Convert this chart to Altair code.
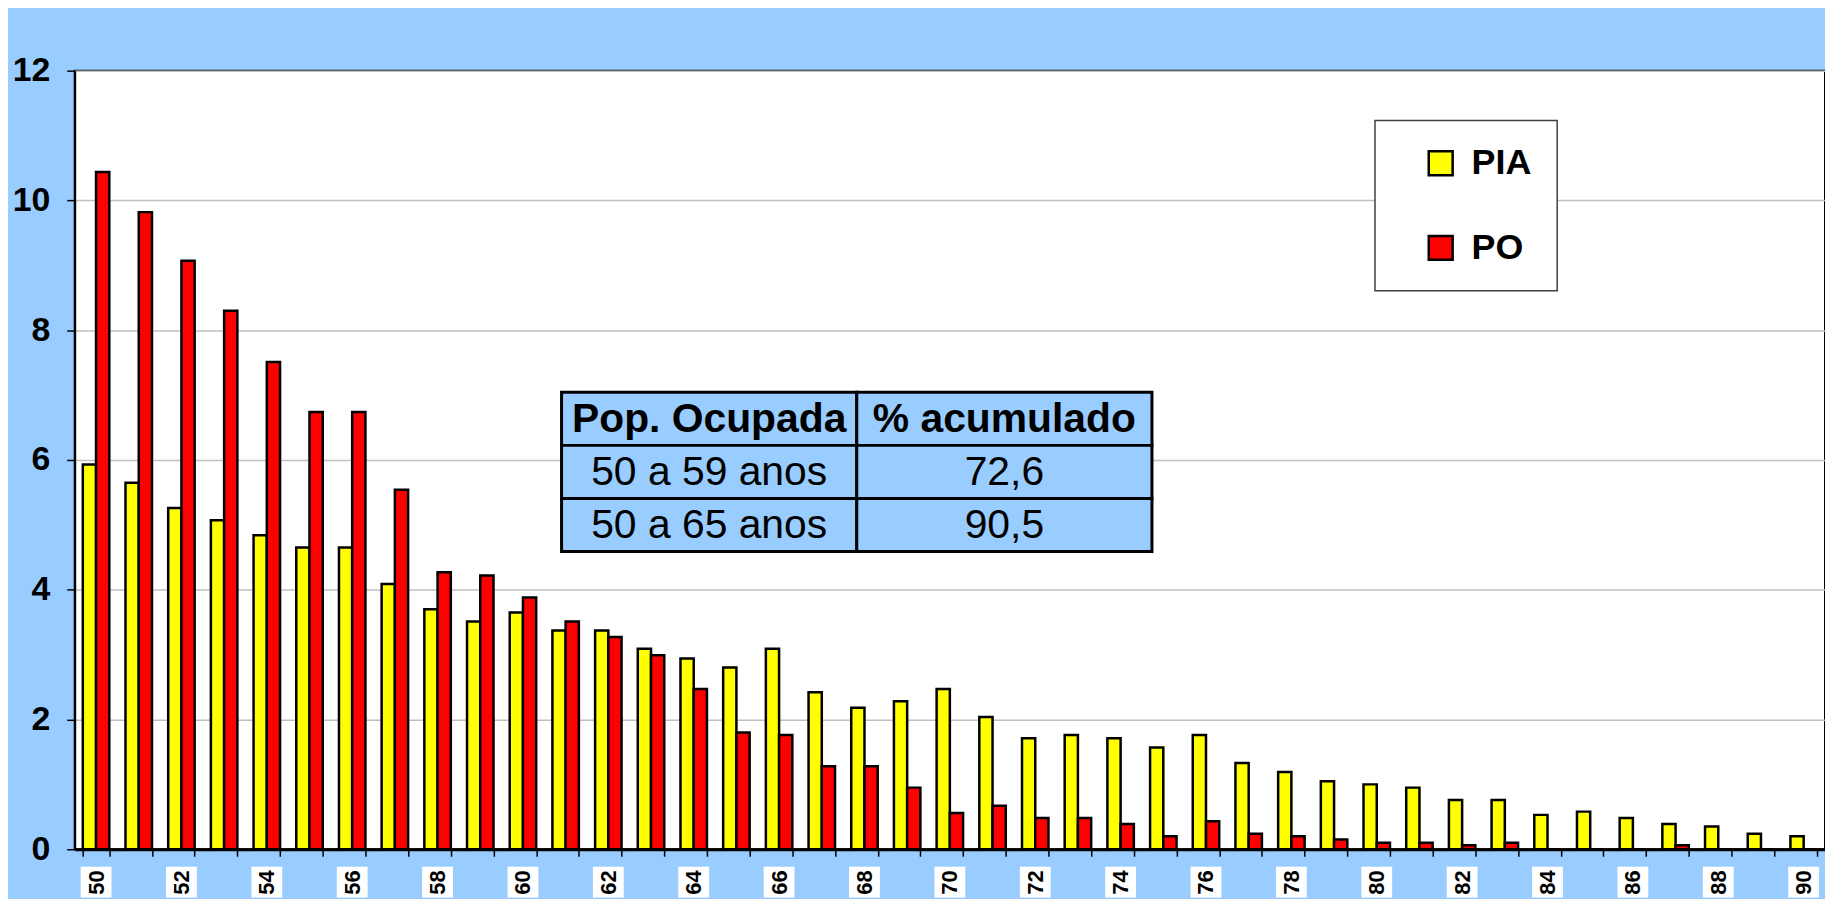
import altair as alt
import pandas as pd

# ---------------- data ----------------
ages = list(range(50, 91))
pia = [5.93, 5.65, 5.26, 5.07, 4.84, 4.65, 4.65, 4.09, 3.70, 3.51,
       3.65, 3.37, 3.37, 3.09, 2.94, 2.80, 3.09, 2.42, 2.18, 2.28,
       2.47, 2.04, 1.71, 1.76, 1.71, 1.57, 1.76, 1.33, 1.19, 1.05,
       1.00, 0.95, 0.76, 0.76, 0.53, 0.58, 0.48, 0.39, 0.35, 0.24,
       0.20]
po = [10.44, 9.82, 9.07, 8.30, 7.51, 6.74, 6.74, 5.54, 4.27, 4.22,
      3.88, 3.51, 3.27, 2.99, 2.47, 1.80, 1.76, 1.28, 1.28, 0.95,
      0.56, 0.67, 0.48, 0.48, 0.39, 0.20, 0.43, 0.24, 0.20, 0.15,
      0.10, 0.10, 0.06, 0.10, 0.0, 0.0, 0.0, 0.06, 0.0, 0.0,
      0.0]
series_names = ["PIA", "PO"]
series_colors = ["#FFFF00", "#FF0000"]
y_ticks = [0, 2, 4, 6, 8, 10, 12]

table_header = ["Pop. Ocupada", "% acumulado"]
table_labels = ["50 a 59 anos", "50 a 65 anos"]
table_values = ["72,6", "90,5"]

# ---------------- layout ----------------
W, H = 1758, 782
FONT = "Liberation Sans"
BG = "#99CCFF"

rows = []
for a, p, o in zip(ages, pia, po):
    rows.append({"age": a, "series": "PIA", "value": p})
    rows.append({"age": a, "series": "PO", "value": o})
df = pd.DataFrame(rows)

x_axis = alt.Axis(
    title=None, labelAngle=270, labelAlign="center", labelBaseline="middle",
    labelExpr="datum.value % 2 == 0 ? datum.label : ''",
    labelOverlap=False, tickBand="extent", tickSize=7, tickWidth=1.5,
    tickColor="black", domainColor="black", domainWidth=3,
    labelFont=FONT, labelFontSize=22, labelFontWeight="bold",
    labelColor="black", labelPadding=26, grid=False, zindex=1,
)
x_enc = alt.X("age:O", scale=alt.Scale(paddingInner=0.38, paddingOuter=0.19),
              axis=x_axis)

bars = alt.Chart(df).mark_bar(stroke="black", strokeWidth=2.5).encode(
    x=x_enc,
    xOffset=alt.XOffset("series:N", sort=series_names,
                        scale=alt.Scale(paddingInner=0, paddingOuter=0)),
    y=alt.Y("value:Q", scale=alt.Scale(domain=[0, 12], nice=False),
            axis=alt.Axis(title=None, values=y_ticks, labelFont=FONT,
                          labelFontSize=34, labelFontWeight="bold",
                          labelColor="black", tickColor="black", tickSize=8,
                          tickWidth=1.5, labelPadding=17, domainColor="black",
                          domainWidth=2, grid=True, gridColor="#C0C0C0",
                          gridWidth=1.5)),
    color=alt.Color("series:N",
                    scale=alt.Scale(domain=series_names, range=series_colors),
                    legend=alt.Legend(title=None, orient="none", legendX=1306,
                                      legendY=50, direction="vertical")),
)

label_boxes = alt.Chart(df).transform_filter(
    "datum.series == 'PIA' && datum.age % 2 == 0"
).mark_square(size=960, color="white", filled=True, opacity=1).encode(
    x=x_enc, y=alt.value(H + 33)
)

main = alt.layer(bars, label_boxes)

# ---------------- summary table ----------------
cells = pd.DataFrame({
    "col": [0, 1, 0, 1, 0, 1],
    "row": [0, 0, 1, 1, 2, 2],
    "text": [table_header[0], table_header[1],
             table_labels[0], table_values[0],
             table_labels[1], table_values[1]],
    "header": [True, True, False, False, False, False],
})
tx = alt.X("col:O", scale=alt.Scale(range=[489, 1082], paddingInner=0,
                                    paddingOuter=0), axis=None)
ty = alt.Y("row:O", scale=alt.Scale(range=[323, 483], paddingInner=0,
                                    paddingOuter=0), axis=None)
t_rect = alt.Chart(cells).mark_rect(fill=BG, stroke="black",
                                    strokeWidth=3).encode(x=tx, y=ty)
t_head = alt.Chart(cells).transform_filter("datum.header").mark_text(
    font=FONT, fontSize=41, fontWeight="bold", color="black", dy=1
).encode(x=tx, y=ty, text="text:N")
t_body = alt.Chart(cells).transform_filter("!datum.header").mark_text(
    font=FONT, fontSize=41, fontWeight="normal", color="black", dy=1
).encode(x=tx, y=ty, text="text:N")
table = alt.layer(t_rect, t_head, t_body)

chart = alt.layer(main, table).resolve_scale(
    x="independent", y="independent"
).properties(
    width=W, height=H, background=BG,
    padding={"left": 67, "top": 61, "right": 0, "bottom": 48},
    autosize=alt.AutoSizeParams(type="none"),
).configure_view(
    fill="white", stroke="black", strokeWidth=2
).configure_legend(
    fillColor="white", strokeColor="#404040", strokeWidth=1.5, padding=25,
    symbolType="square", symbolSize=576, symbolStrokeColor="black",
    symbolStrokeWidth=2.5, symbolOpacity=1, labelFont=FONT, labelFontSize=36,
    labelFontWeight="bold", labelColor="black", rowPadding=49,
    symbolOffset=23, labelOffset=13,
)

chart.save("out.html", embed_options={"renderer": "svg", "actions": False})
